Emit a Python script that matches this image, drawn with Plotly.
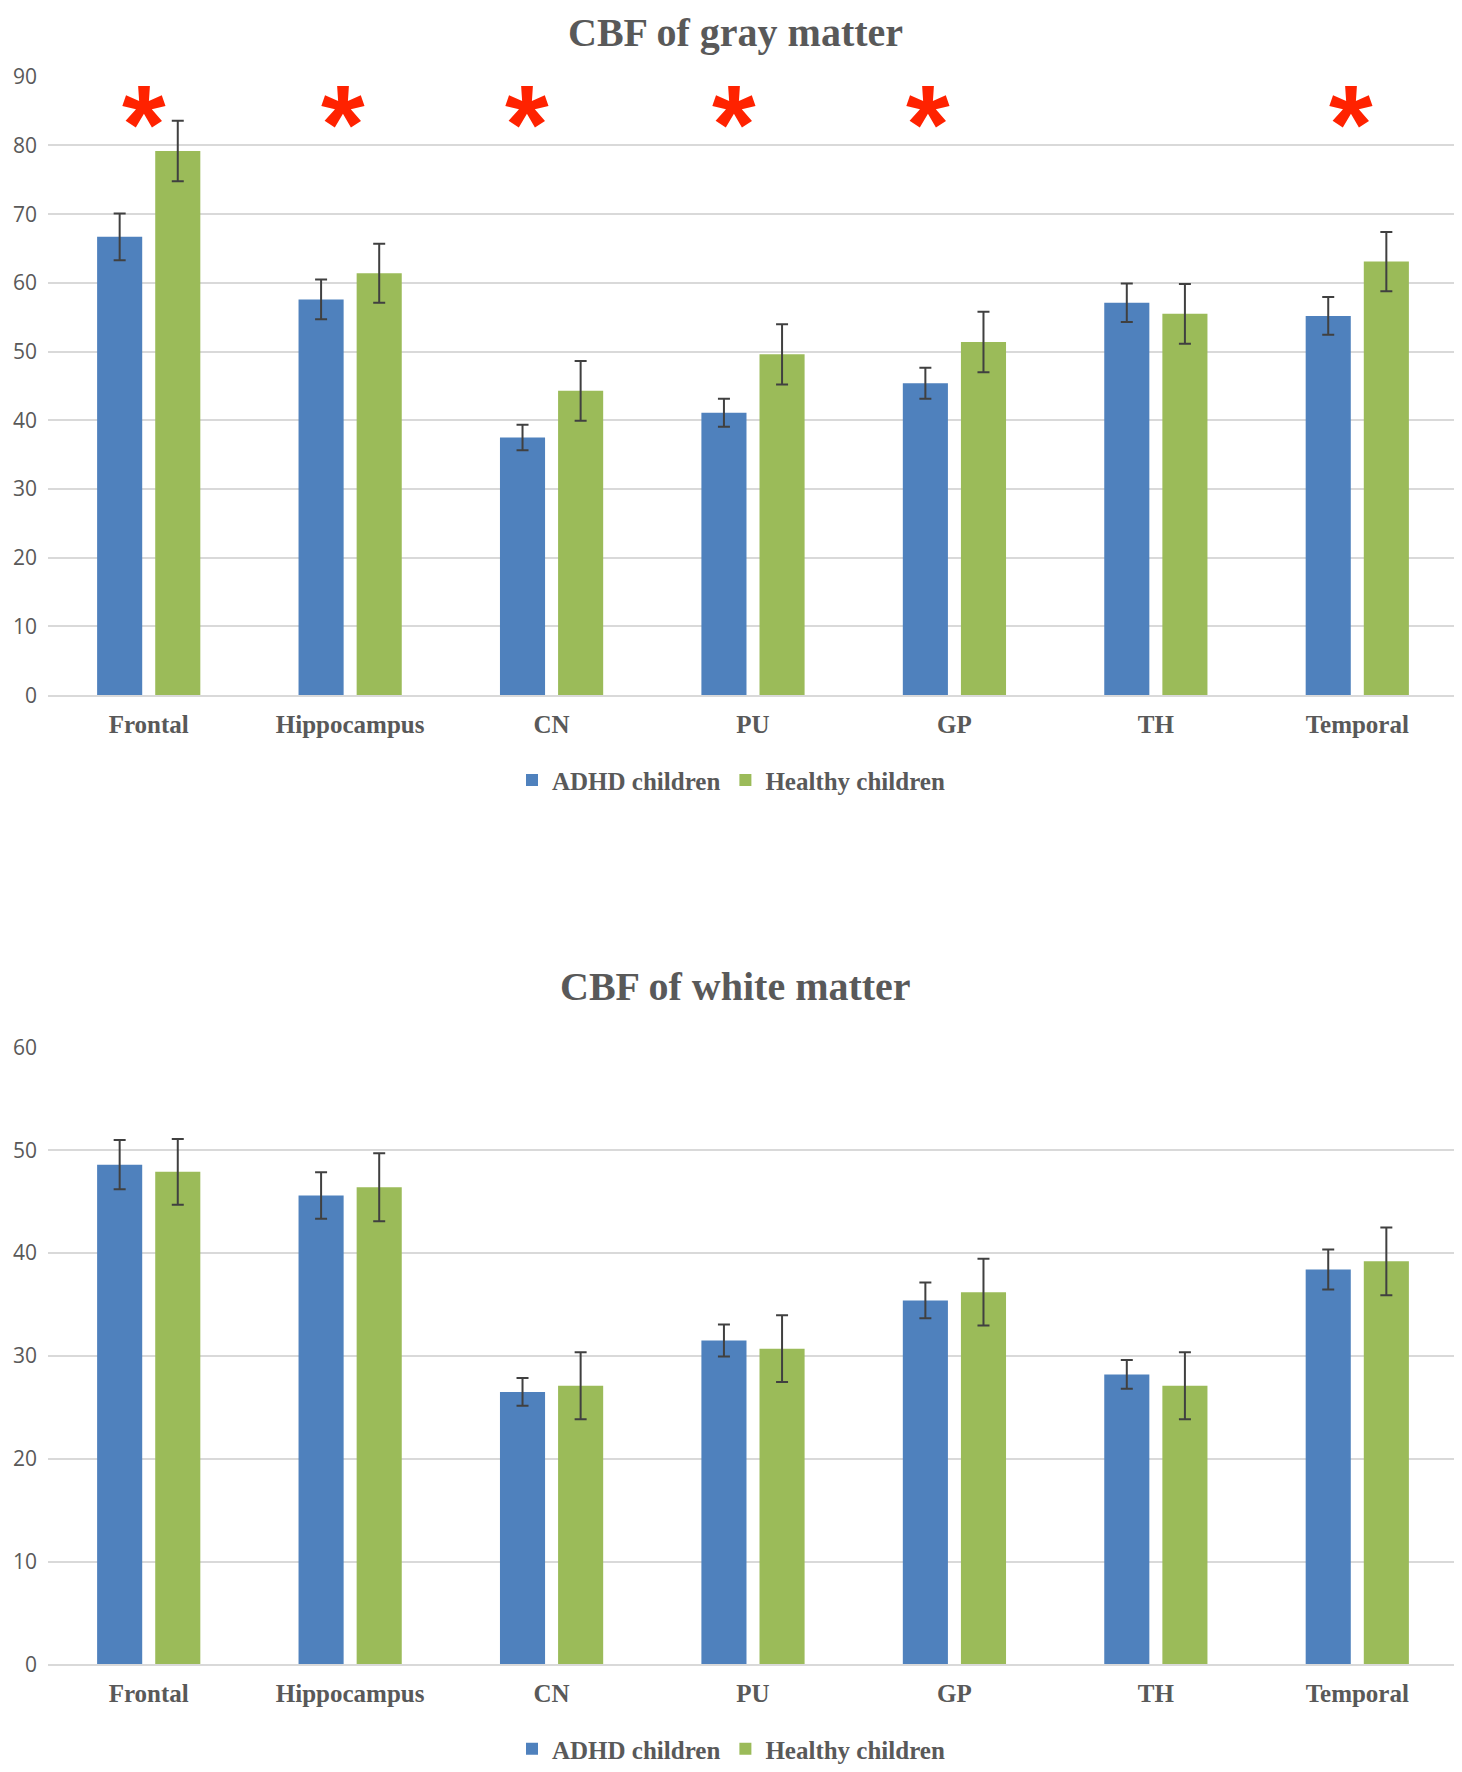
import plotly.graph_objects as go
from plotly.subplots import make_subplots

regions = ["Frontal", "Hippocampus", "CN", "PU", "GP", "TH", "Temporal"]
series_names = ["ADHD children", "Healthy children"]

gray_adhd = [66.7, 57.6, 37.5, 41.1, 45.4, 57.1, 55.2]
gray_adhd_err = [3.4, 2.9, 1.85, 2.05, 2.25, 2.8, 2.75]
gray_healthy = [79.2, 61.4, 44.3, 49.6, 51.4, 55.5, 63.1]
gray_healthy_err = [4.4, 4.3, 4.35, 4.4, 4.4, 4.35, 4.3]

white_adhd = [48.6, 45.6, 26.5, 31.5, 35.4, 28.2, 38.4]
white_adhd_err = [2.4, 2.25, 1.35, 1.55, 1.75, 1.4, 1.95]
white_healthy = [47.9, 46.4, 27.1, 30.7, 36.2, 27.1, 39.2]
white_healthy_err = [3.2, 3.3, 3.25, 3.25, 3.25, 3.25, 3.3]

significant = ["Frontal", "Hippocampus", "CN", "PU", "GP", "Temporal"]
star_shift = [-5, -7, -25, -19, -26, -6]
star_level = 85.2

gray_ticks = [0, 10, 20, 30, 40, 50, 60, 70, 80, 90]
white_ticks = [0, 10, 20, 30, 40, 50, 60]

BLUE = "#4F81BD"
GREEN = "#9BBB59"
TXT = "#595959"
GRID = "#D9D9D9"
SERIF = "Liberation Serif, Times New Roman, serif"
SANS = "Open Sans, Noto Sans, sans-serif"

# the page body has an 8px margin; figure pixel coords = reference coords - 8
W, H = 1454, 1764
OFF = 8

fig = make_subplots(rows=2, cols=1)

def add_group(row, a, ae, h, he, legend):
    fig.add_trace(go.Bar(x=regions, y=a, name=series_names[0], marker_color=BLUE,
                         error_y=dict(type="data", array=ae, color="#404040", thickness=2, width=6),
                         legend=legend), row=row, col=1)
    fig.add_trace(go.Bar(x=regions, y=h, name=series_names[1], marker_color=GREEN,
                         error_y=dict(type="data", array=he, color="#404040", thickness=2, width=6),
                         legend=legend), row=row, col=1)

add_group(1, gray_adhd, gray_adhd_err, gray_healthy, gray_healthy_err, "legend")
add_group(2, white_adhd, white_adhd_err, white_healthy, white_healthy_err, "legend2")

def py(px):
    return 1 - (px - OFF) / H

def pxx(px):
    return (px - OFF) / W

xdom = [pxx(48), pxx(1458)]

fig.update_yaxes(showgrid=True, gridcolor=GRID, gridwidth=1.5, zeroline=False,
                 showline=False, ticks="", ticklabelstandoff=10,
                 tickfont=dict(family=SANS, size=21, color=TXT), automargin=False)
fig.update_xaxes(showgrid=False, zeroline=False, showline=True, linecolor=GRID, linewidth=1.5,
                 ticks="", tickfont=dict(family=SERIF, size=25, color=TXT, weight="bold"),
                 automargin=False, domain=xdom, ticklabelstandoff=6)

fig.update_yaxes(range=[0, 90], tickvals=gray_ticks, domain=[py(697.5), py(77)], row=1, col=1)
fig.update_yaxes(range=[0, 60], tickvals=white_ticks, domain=[py(1670), py(1051)], row=2, col=1)

for cat, sh in zip(significant, star_shift):
    fig.add_annotation(x=cat, y=star_level, xref="x", yref="y", text="<b>*</b>",
                       showarrow=False, xshift=sh, yshift=-15,
                       font=dict(family="Liberation Sans, Arial, sans-serif", size=112, color="#FF2200"))

fig.add_annotation(x=pxx(735), y=1, xref="paper", yref="paper", text="<b>CBF of gray matter</b>",
                   showarrow=False, font=dict(family=SERIF, size=40, color=TXT), yanchor="top")
fig.add_annotation(x=pxx(735), y=py(990), xref="paper", yref="paper", text="<b>CBF of white matter</b>",
                   showarrow=False, font=dict(family=SERIF, size=40, color=TXT), yanchor="middle")

leg_common = dict(orientation="h", xanchor="center", yanchor="middle", x=pxx(731),
                  font=dict(family=SERIF, size=25, color=TXT, weight="bold"),
                  bgcolor="rgba(0,0,0,0)", itemwidth=30, tracegroupgap=0)

fig.update_layout(
    width=W, height=H,
    margin=dict(l=0, r=0, t=0, b=0),
    paper_bgcolor="white", plot_bgcolor="white",
    barmode="group", bargap=0.423, bargroupgap=0.224,
    legend=dict(**leg_common, y=py(783)),
    legend2=dict(**leg_common, y=py(1755)),
    showlegend=True,
)
fig.update_traces(marker_line_width=0)

fig.write_html("out.html")
